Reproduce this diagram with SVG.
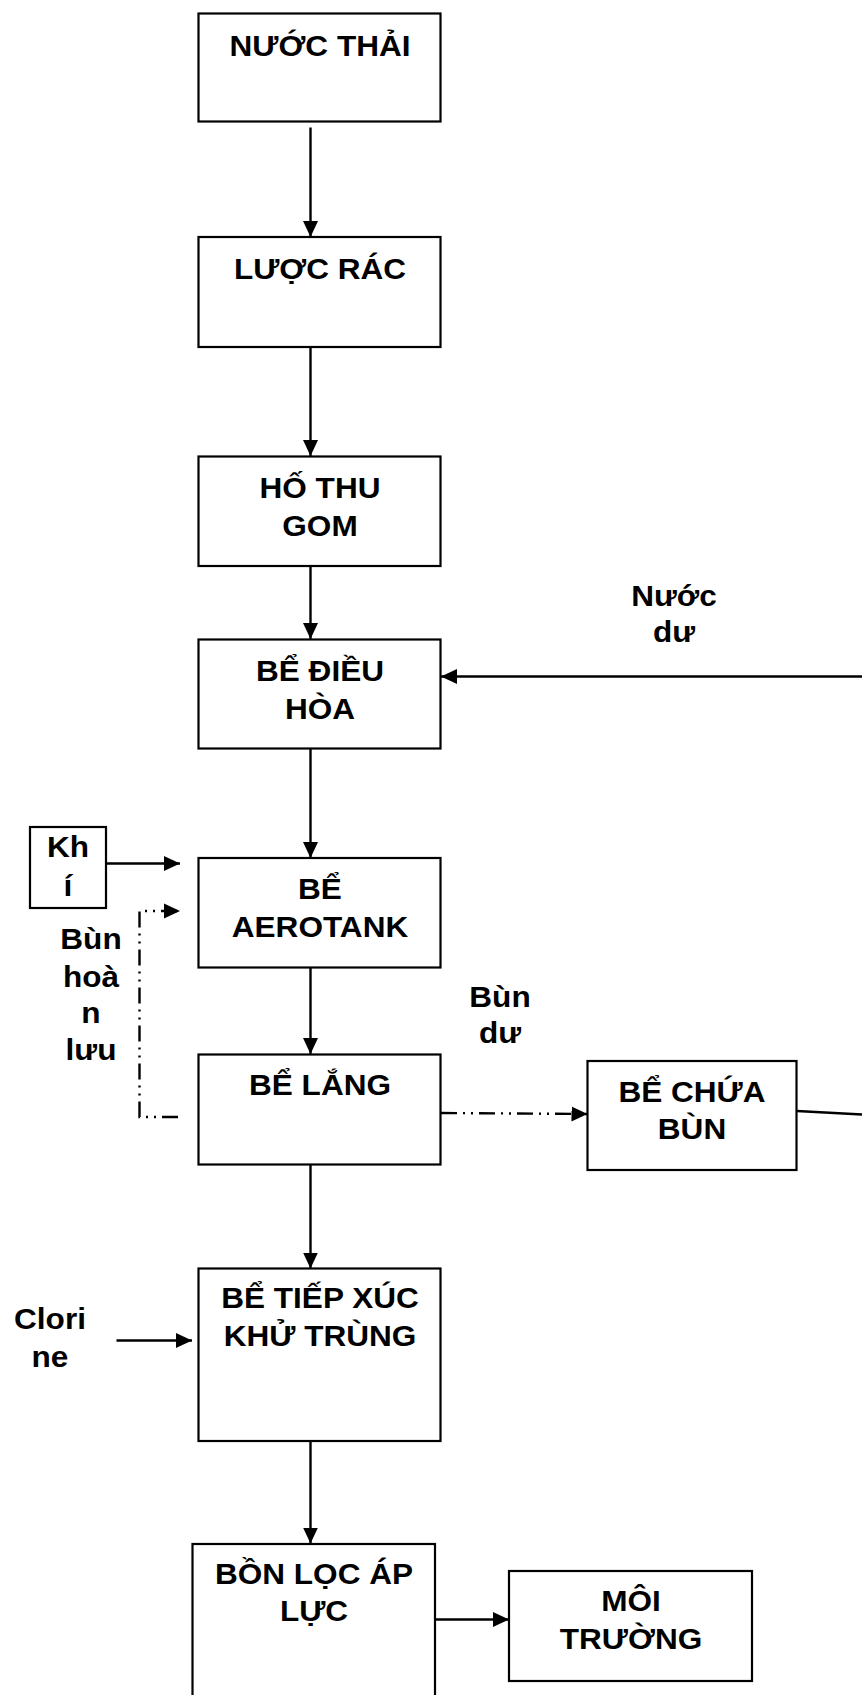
<svg xmlns="http://www.w3.org/2000/svg" width="862" height="1695" viewBox="0 0 862 1695">
<style>
.box{fill:#fff;stroke:#000;stroke-width:2.2}
.ln{fill:none;stroke:#000;stroke-width:2.4}
.dash{fill:none;stroke:#000;stroke-width:2.4;stroke-dasharray:16,6,2,6,2,6}
text{font-family:"Liberation Sans",Arial,sans-serif;font-weight:bold;font-size:29.5px;fill:#000;text-anchor:middle}
</style>
<defs>
<marker id="ah" markerUnits="userSpaceOnUse" markerWidth="17" markerHeight="16" refX="16" refY="8" orient="auto">
<path d="M0,0.5 L16,8 L0,15.5 z" fill="#000"/>
</marker>
</defs>
<rect width="862" height="1695" fill="#fff"/>
<g id="connectors">
<line class="ln" x1="310.5" y1="127.5" x2="310.5" y2="237" marker-end="url(#ah)"/>
<line class="ln" x1="310.5" y1="347" x2="310.5" y2="456" marker-end="url(#ah)"/>
<line class="ln" x1="310.5" y1="566" x2="310.5" y2="639" marker-end="url(#ah)"/>
<line class="ln" x1="310.5" y1="748" x2="310.5" y2="858" marker-end="url(#ah)"/>
<line class="ln" x1="310.5" y1="967" x2="310.5" y2="1054" marker-end="url(#ah)"/>
<line class="ln" x1="310.5" y1="1162" x2="310.5" y2="1268.5" marker-end="url(#ah)"/>
<line class="ln" x1="310.5" y1="1440" x2="310.5" y2="1543.5" marker-end="url(#ah)"/>
<line class="ln" x1="862" y1="676.5" x2="441" y2="676.5" marker-end="url(#ah)"/>
<line class="ln" x1="106" y1="863.5" x2="180" y2="863.5" marker-end="url(#ah)"/>
<path class="dash" d="M178,1117 H139.5 V911 H180" marker-end="url(#ah)"/>
<line class="dash" x1="441" y1="1113" x2="587.5" y2="1114" marker-end="url(#ah)"/>
<line class="ln" x1="797" y1="1111" x2="862" y2="1114.5"/>
<line class="ln" x1="116.5" y1="1340.5" x2="192" y2="1340.5" marker-end="url(#ah)"/>
<line class="ln" x1="435" y1="1619.5" x2="509" y2="1619.5" marker-end="url(#ah)"/>
</g>
<g id="nuoc-thai">
<rect class="box" x="198.5" y="13.5" width="242" height="108"/>
<text transform="translate(320 56) scale(1.07 1)">NƯỚC THẢI</text>
</g>
<g id="luoc-rac">
<rect class="box" x="198.5" y="237" width="242" height="110"/>
<text transform="translate(320 279) scale(1.07 1)">LƯỢC RÁC</text>
</g>
<g id="ho-thu-gom">
<rect class="box" x="198.5" y="456.5" width="242" height="109.5"/>
<text transform="translate(320 498) scale(1.07 1)">HỐ THU</text>
<text transform="translate(320 536) scale(1.07 1)">GOM</text>
</g>
<g id="be-dieu-hoa">
<rect class="box" x="198.5" y="639.5" width="242" height="109"/>
<text transform="translate(320 681) scale(1.07 1)">BỂ ĐIỀU</text>
<text transform="translate(320 719) scale(1.07 1)">HÒA</text>
</g>
<g id="nuoc-du">
<text transform="translate(674 606) scale(1.07 1)">Nước</text>
<text transform="translate(674 642) scale(1.07 1)">dư</text>
</g>
<g id="khi">
<rect class="box" x="30" y="827" width="76" height="81"/>
<text transform="translate(68 857) scale(1.07 1)">Kh</text>
<text transform="translate(68 896) scale(1.07 1)">í</text>
</g>
<g id="be-aerotank">
<rect class="box" x="198.5" y="858" width="242" height="109.5"/>
<text transform="translate(320 899) scale(1.07 1)">BỂ</text>
<text transform="translate(320 937) scale(1.07 1)">AEROTANK</text>
</g>
<g id="bun-hoan-luu">
<text transform="translate(91 949) scale(1.07 1)">Bùn</text>
<text transform="translate(91 987) scale(1.07 1)">hoà</text>
<text transform="translate(91 1023) scale(1.07 1)">n</text>
<text transform="translate(91 1060) scale(1.07 1)">lưu</text>
</g>
<g id="bun-du">
<text transform="translate(500 1007) scale(1.07 1)">Bùn</text>
<text transform="translate(500 1043) scale(1.07 1)">dư</text>
</g>
<g id="be-lang">
<rect class="box" x="198.5" y="1054.5" width="242" height="110"/>
<text transform="translate(320 1095) scale(1.07 1)">BỂ LẮNG</text>
</g>
<g id="be-chua-bun">
<rect class="box" x="587.5" y="1061" width="209" height="109"/>
<text transform="translate(692 1102) scale(1.07 1)">BỂ CHỨA</text>
<text transform="translate(692 1139) scale(1.07 1)">BÙN</text>
</g>
<g id="clorine">
<text transform="translate(50 1329) scale(1.07 1)">Clori</text>
<text transform="translate(50 1367) scale(1.07 1)">ne</text>
</g>
<g id="be-tiep-xuc">
<rect class="box" x="198.5" y="1268.5" width="242" height="172.5"/>
<text transform="translate(320 1308) scale(1.07 1)">BỂ TIẾP XÚC</text>
<text transform="translate(320 1346) scale(1.07 1)">KHỬ TRÙNG</text>
</g>
<g id="bon-loc">
<rect class="box" x="192.5" y="1544" width="242.5" height="200"/>
<text transform="translate(314 1584) scale(1.07 1)">BỒN LỌC ÁP</text>
<text transform="translate(314 1621) scale(1.07 1)">LỰC</text>
</g>
<g id="moi-truong">
<rect class="box" x="509" y="1571" width="243" height="110"/>
<text transform="translate(631 1611) scale(1.07 1)">MÔI</text>
<text transform="translate(631 1649) scale(1.07 1)">TRƯỜNG</text>
</g>
</svg>
